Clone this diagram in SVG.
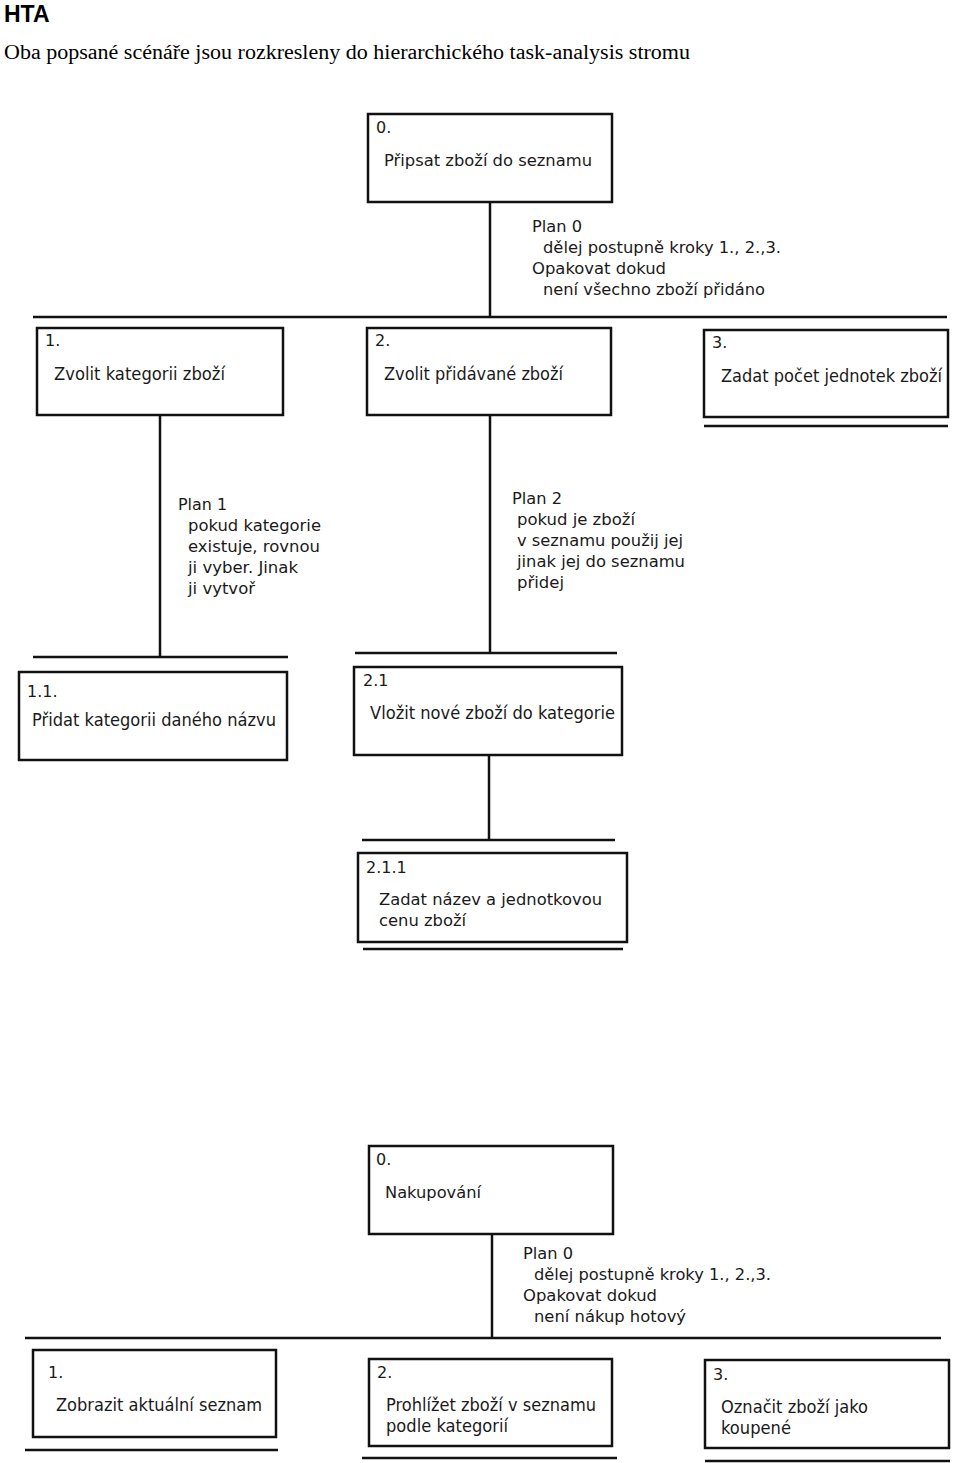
<svg xmlns="http://www.w3.org/2000/svg" width="960" height="1463" viewBox="0 0 960 1463">
<style>
.bx{fill:#fff;stroke:#111;stroke-width:2.5}
.ln{stroke:#111;stroke-width:2.5;fill:none}
.t{font-family:"DejaVu Sans",sans-serif;font-size:16px;fill:#1a1a1a}
.b{font-family:"DejaVu Sans",sans-serif;font-size:17px;fill:#1a1a1a}
.h{font-family:"Liberation Sans",Arial,sans-serif;font-weight:bold;font-size:23px;fill:#000}
.s{font-family:"Liberation Serif","Times New Roman",serif;font-size:20px;fill:#000}
</style>
<rect width="960" height="1463" fill="#fff"/>
<text class="h" x="4" y="22">HTA</text>
<text class="s" x="4" y="59" textLength="686" lengthAdjust="spacingAndGlyphs">Oba popsané scénáře jsou rozkresleny do hierarchického task-analysis stromu</text>

<g id="connectors">
<line class="ln" x1="490" y1="202" x2="490" y2="317"/>
<line class="ln" x1="33" y1="317" x2="947" y2="317"/>
<line class="ln" x1="160" y1="415" x2="160" y2="657"/>
<line class="ln" x1="33" y1="657" x2="288" y2="657"/>
<line class="ln" x1="490" y1="415" x2="490" y2="653"/>
<line class="ln" x1="355" y1="653" x2="617" y2="653"/>
<line class="ln" x1="489" y1="755" x2="489" y2="840"/>
<line class="ln" x1="362" y1="840" x2="615" y2="840"/>
<line class="ln" x1="704" y1="426" x2="948" y2="426"/>
<line class="ln" x1="363" y1="949" x2="623" y2="949"/>
<line class="ln" x1="492" y1="1234" x2="492" y2="1338"/>
<line class="ln" x1="25" y1="1338" x2="941" y2="1338"/>
<line class="ln" x1="25" y1="1450" x2="278" y2="1450"/>
<line class="ln" x1="362" y1="1458" x2="617" y2="1458"/>
<line class="ln" x1="705" y1="1461" x2="950" y2="1461"/>
</g>

<g id="plan0a">
<text class="t" x="532" y="232" textLength="50" lengthAdjust="spacingAndGlyphs">Plan 0</text>
<text class="t" x="543" y="253" textLength="238" lengthAdjust="spacingAndGlyphs">dělej postupně kroky 1., 2.,3.</text>
<text class="t" x="532" y="274" textLength="134" lengthAdjust="spacingAndGlyphs">Opakovat dokud</text>
<text class="t" x="543" y="295" textLength="222" lengthAdjust="spacingAndGlyphs">není všechno zboží přidáno</text>
</g>
<g id="plan1">
<text class="t" x="178" y="510" textLength="49" lengthAdjust="spacingAndGlyphs">Plan 1</text>
<text class="t" x="188" y="531" textLength="133" lengthAdjust="spacingAndGlyphs">pokud kategorie</text>
<text class="t" x="188" y="552" textLength="132" lengthAdjust="spacingAndGlyphs">existuje, rovnou</text>
<text class="t" x="188" y="573" textLength="110" lengthAdjust="spacingAndGlyphs">ji vyber. Jinak</text>
<text class="t" x="188" y="594" textLength="67" lengthAdjust="spacingAndGlyphs">ji vytvoř</text>
</g>
<g id="plan2">
<text class="t" x="512" y="504" textLength="50" lengthAdjust="spacingAndGlyphs">Plan 2</text>
<text class="t" x="517" y="525" textLength="118" lengthAdjust="spacingAndGlyphs">pokud je zboží</text>
<text class="t" x="517" y="546" textLength="166" lengthAdjust="spacingAndGlyphs">v seznamu použij jej</text>
<text class="t" x="517" y="567" textLength="168" lengthAdjust="spacingAndGlyphs">jinak jej do seznamu</text>
<text class="t" x="517" y="588" textLength="47" lengthAdjust="spacingAndGlyphs">přidej</text>
</g>

<g id="n0a">
<rect class="bx" x="368" y="114" width="244" height="88"/>
<text class="t" x="376" y="133">0.</text>
<text class="t" x="384" y="166" textLength="208" lengthAdjust="spacingAndGlyphs">Připsat zboží do seznamu</text>
</g>
<g id="n1a">
<rect class="bx" x="37" y="328" width="246" height="87"/>
<text class="t" x="45" y="346">1.</text>
<text class="b" x="54" y="380" textLength="171" lengthAdjust="spacingAndGlyphs">Zvolit kategorii zboží</text>
</g>
<g id="n2a">
<rect class="bx" x="367" y="328" width="244" height="87"/>
<text class="t" x="375" y="346">2.</text>
<text class="b" x="384" y="380" textLength="179" lengthAdjust="spacingAndGlyphs">Zvolit přidávané zboží</text>
</g>
<g id="n3a">
<rect class="bx" x="704" y="330" width="244" height="87"/>
<text class="t" x="712" y="348">3.</text>
<text class="b" x="721" y="382" textLength="221" lengthAdjust="spacingAndGlyphs">Zadat počet jednotek zboží</text>
</g>
<g id="n11a">
<rect class="bx" x="19" y="672" width="268" height="88"/>
<text class="t" x="27" y="697">1.1.</text>
<text class="b" x="32" y="726" textLength="244" lengthAdjust="spacingAndGlyphs">Přidat kategorii daného názvu</text>
</g>
<g id="n21a">
<rect class="bx" x="354" y="667" width="268" height="88"/>
<text class="t" x="363" y="686">2.1</text>
<text class="b" x="370" y="719" textLength="245" lengthAdjust="spacingAndGlyphs">Vložit nové zboží do kategorie</text>
</g>
<g id="n211a">
<rect class="bx" x="358" y="853" width="269" height="89"/>
<text class="t" x="366" y="873">2.1.1</text>
<text class="t" x="379" y="905" textLength="223" lengthAdjust="spacingAndGlyphs">Zadat název a jednotkovou</text>
<text class="t" x="379" y="926" textLength="87" lengthAdjust="spacingAndGlyphs">cenu zboží</text>
</g>

<g id="plan0b">
<text class="t" x="523" y="1259" textLength="50" lengthAdjust="spacingAndGlyphs">Plan 0</text>
<text class="t" x="534" y="1280" textLength="237" lengthAdjust="spacingAndGlyphs">dělej postupně kroky 1., 2.,3.</text>
<text class="t" x="523" y="1301" textLength="134" lengthAdjust="spacingAndGlyphs">Opakovat dokud</text>
<text class="t" x="534" y="1322" textLength="152" lengthAdjust="spacingAndGlyphs">není nákup hotový</text>
</g>
<g id="n0b">
<rect class="bx" x="369" y="1146" width="244" height="88"/>
<text class="t" x="376" y="1165">0.</text>
<text class="t" x="385" y="1198" textLength="96" lengthAdjust="spacingAndGlyphs">Nakupování</text>
</g>
<g id="n1b">
<rect class="bx" x="33" y="1350" width="243" height="87"/>
<text class="t" x="48" y="1378">1.</text>
<text class="b" x="56" y="1411" textLength="206" lengthAdjust="spacingAndGlyphs">Zobrazit aktuální seznam</text>
</g>
<g id="n2b">
<rect class="bx" x="369" y="1359" width="243" height="87"/>
<text class="t" x="377" y="1378">2.</text>
<text class="b" x="386" y="1411" textLength="210" lengthAdjust="spacingAndGlyphs">Prohlížet zboží v seznamu</text>
<text class="b" x="386" y="1432" textLength="122" lengthAdjust="spacingAndGlyphs">podle kategorií</text>
</g>
<g id="n3b">
<rect class="bx" x="705" y="1360" width="244" height="88"/>
<text class="t" x="713" y="1380">3.</text>
<text class="b" x="721" y="1413" textLength="147" lengthAdjust="spacingAndGlyphs">Označit zboží jako</text>
<text class="b" x="721" y="1434" textLength="70" lengthAdjust="spacingAndGlyphs">koupené</text>
</g>
</svg>
